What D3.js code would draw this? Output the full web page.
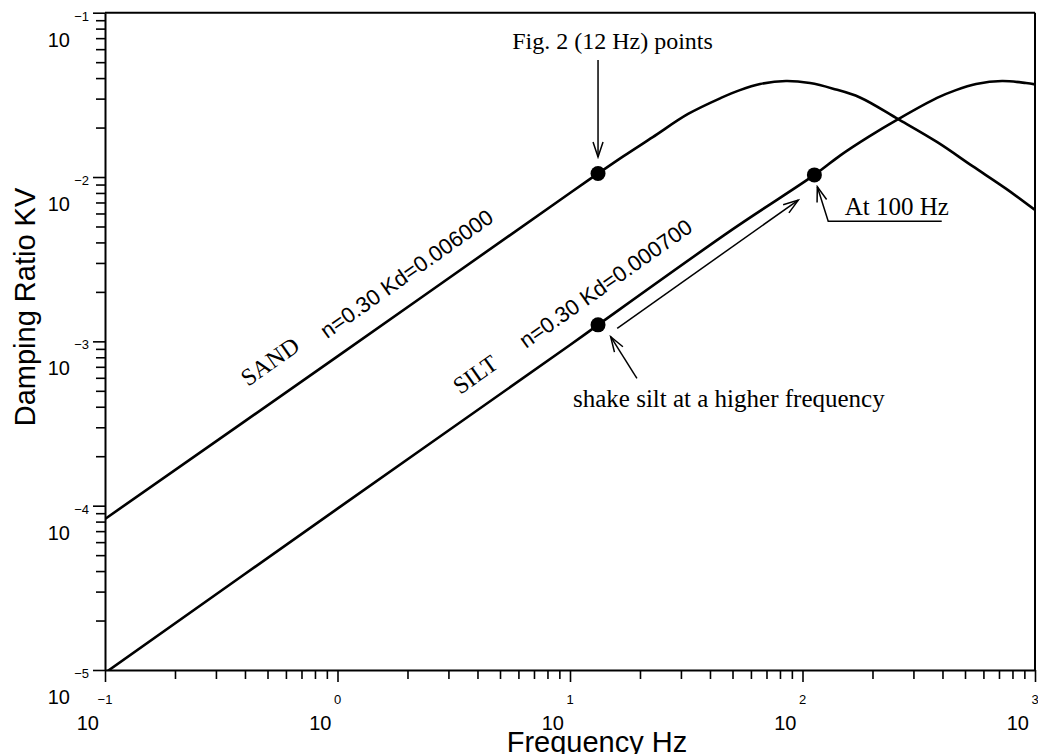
<!DOCTYPE html>
<html><head><meta charset="utf-8">
<script src="https://cdn.jsdelivr.net/npm/d3@7"></script>
<style>body{margin:0;background:#fff} svg{display:block}</style>
</head><body><svg id="c" width="1038" height="754"></svg>
<script>
// ---- data ----
const sandFreq = [0.1, 1, 10, 13.2, 17, 22.7, 32.2, 44.6, 53.8, 65.7, 84.9, 107.7, 135.3, 176.7, 258, 380, 541, 750, 1000];
const sandKV   = [8.3e-5, 8.1e-4, 8.0e-3, 1.05e-2, 1.34e-2, 1.75e-2, 2.42e-2, 3.03e-2, 3.38e-2, 3.68e-2, 3.84e-2, 3.73e-2, 3.45e-2, 3.05e-2, 2.25e-2, 1.63e-2, 1.16e-2, 8.5e-3, 6.3e-3];
const siltFreq = [0.1, 1, 10, 13.2, 50, 112.5, 145, 193, 258, 379, 457, 558, 722, 915, 1000];
const siltKV   = [9.6e-6, 9.6e-5, 9.5e-4, 1.26e-3, 4.8e-3, 1.03e-2, 1.35e-2, 1.76e-2, 2.25e-2, 3.03e-2, 3.38e-2, 3.68e-2, 3.84e-2, 3.73e-2, 3.66e-2];

const dotFreq = [13.2, 13.2, 112.5];
const dotKV   = [0.0105, 1.26e-3, 0.0103];

const curveNames     = ["SAND", "SILT"];
const curveNameFreq  = [0.412, 3.37];
const curveNameKV    = [5.27e-4, 4.71e-4];
const paramLabels    = ["n=0.30 Kd=0.006000", "n=0.30 Kd=0.000700"];
const paramFreq      = [0.902, 6.47];
const paramKV        = [1.03e-3, 8.97e-4];

const noteText = ["Fig. 2 (12 Hz) points", "At 100 Hz", "shake silt at a higher frequency"];
const noteFreq = [5.64, 152, 10.3];
const noteKV   = [0.0601, 5.87e-3, 4.0e-4];

// arrows: polylines in data space, last point is the tip
const arrowFreq = [[13.2, 13.2], [397, 129, 115.8], [19.4, 14.96], [15.96, 95.9]];
const arrowKV   = [[0.0515, 0.01324], [5.39e-3, 5.39e-3, 8.73e-3], [5.96e-4, 1.067e-3], [1.2e-3, 7.24e-3]];

const xMajor = [0.1, 1, 10, 100, 1000];
const xExp   = ["\u22121", "0", "1", "2", "3"];
const yMajor = [1e-1, 1e-2, 1e-3, 1e-4, 1e-5];
const yExp   = ["\u22121", "\u22122", "\u22123", "\u22124", "\u22125"];

const xTitle = "Frequency Hz";
const yTitle = "Damping Ratio KV";

// ---- drawing ----
const SANS = "'Liberation Sans', Arial, Helvetica, sans-serif";
const SERIF = "'Liberation Serif', 'Times New Roman', serif";
const svg = d3.select("#c");
const L = 105, R = 1035, T = 12.7, B = 670;
const x = d3.scaleLog().domain([0.1, 1000]).range([L, R]);
const y = d3.scaleLog().domain([1e-5, 1e-1]).range([B, T]);
const isMajor = d => Math.abs(Math.log10(d) - Math.round(Math.log10(d))) < 1e-6;

svg.append("defs").append("clipPath").attr("id", "clip")
  .append("rect").attr("x", L).attr("y", T).attr("width", R - L).attr("height", B - T);
const mk = svg.select("defs").append("marker").attr("id", "arr")
  .attr("markerUnits", "userSpaceOnUse").attr("viewBox", "-16 -8 18 16")
  .attr("refX", 0).attr("refY", 0).attr("markerWidth", 18).attr("markerHeight", 16)
  .attr("orient", "auto");
mk.append("path").attr("d", "M-15,-5 L0,0 L-15,5").attr("fill", "none")
  .attr("stroke", "#000").attr("stroke-width", 1.5);

// axes
const gx = svg.append("g").attr("transform", `translate(0,${B})`)
  .call(d3.axisBottom(x).tickValues(x.ticks()).tickFormat("").tickSizeOuter(0));
gx.selectAll(".tick line").attr("y2", d => isMajor(d) ? 12 : 9).attr("stroke-width", 1.6);
gx.select(".domain").attr("stroke-width", 2);

const gy = svg.append("g").attr("transform", `translate(${L},0)`)
  .call(d3.axisLeft(y).tickValues(y.ticks()).tickFormat("").tickSizeOuter(0));
gy.selectAll(".tick line").attr("x2", d => isMajor(d) ? -12 : -9).attr("stroke-width", 1.6);
gy.select(".domain").attr("stroke-width", 2);

// frame top & right
svg.append("line").attr("x1", L).attr("x2", R).attr("y1", T).attr("y2", T).attr("stroke", "#000").attr("stroke-width", 2);
svg.append("line").attr("x1", R).attr("x2", R).attr("y1", T).attr("y2", B).attr("stroke", "#000").attr("stroke-width", 2);

// tick labels
xMajor.forEach((v, i) => {
  svg.append("text").attr("x", x(v)).attr("y", B + 34).attr("text-anchor", "middle")
    .attr("font-family", SANS).attr("font-size", 13).text(xExp[i]);
  svg.append("text").attr("x", x(v) - 6).attr("y", B + 60).attr("text-anchor", "end")
    .attr("font-family", SANS).attr("font-size", 20).text("10");
});
yMajor.forEach((v, i) => {
  svg.append("text").attr("x", 89).attr("y", y(v) + 8).attr("text-anchor", "end")
    .attr("font-family", SANS).attr("font-size", 13).text(yExp[i]);
  svg.append("text").attr("x", 70).attr("y", y(v) + 34).attr("text-anchor", "end")
    .attr("font-family", SANS).attr("font-size", 20).text("10");
});

// titles
svg.append("text").attr("x", 597).attr("y", 752).attr("text-anchor", "middle")
  .attr("font-family", SANS).attr("font-size", 29).text(xTitle);
svg.append("text").attr("transform", "translate(35,307) rotate(-90)").attr("text-anchor", "middle")
  .attr("font-family", SANS).attr("font-size", 29).text(yTitle);

// curves
const line = d3.line().x(d => x(d[0])).y(d => y(d[1])).curve(d3.curveCatmullRom.alpha(0.5));
const curves = svg.append("g").attr("clip-path", "url(#clip)");
[[sandFreq, sandKV], [siltFreq, siltKV]].forEach(([f, k]) => {
  curves.append("path").attr("d", line(f.map((v, i) => [v, k[i]])))
    .attr("fill", "none").attr("stroke", "#000").attr("stroke-width", 2.6);
});

// dots
dotFreq.forEach((f, i) => {
  svg.append("circle").attr("cx", x(f)).attr("cy", y(dotKV[i])).attr("r", 7.5).attr("fill", "#000");
});

// slanted labels
const ang = Math.atan2(y(10) - y(1), x(10) - x(1)) * 180 / Math.PI;
curveNames.forEach((t, i) => {
  svg.append("text").attr("transform", `translate(${x(curveNameFreq[i])},${y(curveNameKV[i])}) rotate(${ang})`)
    .attr("font-family", SERIF).attr("font-size", 24).text(t);
  svg.append("text").attr("transform", `translate(${x(paramFreq[i])},${y(paramKV[i])}) rotate(${ang})`)
    .attr("font-family", SANS).attr("font-size", 22).text(paramLabels[i]);
});

// notes
noteText.forEach((t, i) => {
  svg.append("text").attr("x", x(noteFreq[i])).attr("y", y(noteKV[i]))
    .attr("font-family", SERIF).attr("font-size", i === 0 ? 24 : 25).text(t);
});

// arrows
const aline = d3.line().x(d => x(d[0])).y(d => y(d[1]));
arrowFreq.forEach((f, i) => {
  svg.append("path").attr("d", aline(f.map((v, j) => [v, arrowKV[i][j]])))
    .attr("fill", "none").attr("stroke", "#000").attr("stroke-width", 1.5)
    .attr("marker-end", "url(#arr)");
});
</script></body></html>
